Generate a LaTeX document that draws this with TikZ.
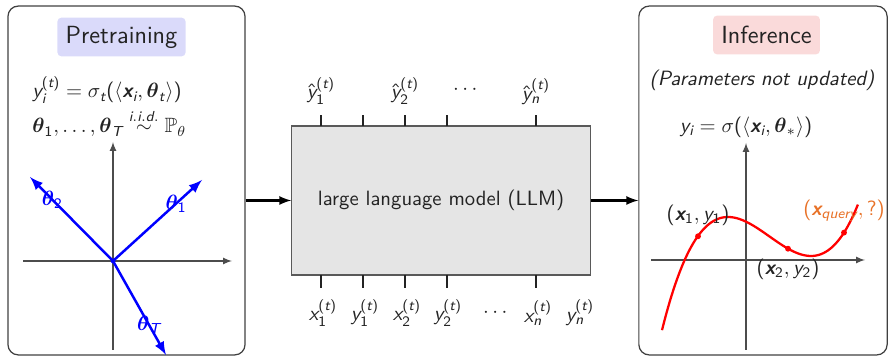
\documentclass[tikz,border=0pt]{standalone}
\usepackage{amsmath}
\usepackage{amssymb}
\usepackage{tikz}
\usetikzlibrary{positioning}
\usetikzlibrary{arrows}

% sans serif digits and latin letters in math, greek stays as is
\SetSymbolFont{operators}{normal}{OT1}{cmss}{m}{n}
\SetSymbolFont{operators}{bold}{OT1}{cmss}{bx}{n}
\DeclareSymbolFont{sfletters}{TU}{lmss}{m}{sl}
\SetSymbolFont{sfletters}{bold}{TU}{lmss}{bx}{sl}
\newcount\lettercode
\lettercode=`a
\loop
	\Umathcode\lettercode=7 \symsfletters \lettercode
	\ifnum\lettercode<`z \advance\lettercode by 1 \repeat
\lettercode=`A
\loop
	\Umathcode\lettercode=7 \symsfletters \lettercode
	\ifnum\lettercode<`Z \advance\lettercode by 1 \repeat

\definecolor{inkgray}{RGB}{35,35,35}
\definecolor{tagblue}{RGB}{218,218,250}
\definecolor{tagred}{RGB}{250,218,218}
\definecolor{queryorange}{RGB}{232,114,40}
\definecolor{llmgray}{RGB}{229,229,229}

\tikzset{
  panel/.style={draw=black!75, line width=0.6pt, rounded corners=5pt, minimum height=5.93cm},
  tag/.style={rounded corners=2pt, inner xsep=4pt, minimum height=0.66cm, font=\sffamily\large},
  llm/.style={draw=black!65, fill=llmgray, line width=0.6pt, minimum width=5.07cm, minimum height=2.53cm},
  tick/.style={draw=inkgray, line width=0.6pt},
  axis/.style={draw=black!70, line width=0.5pt, -latex},
  vec/.style={draw=blue, line width=1.2pt, -latex},
  flow/.style={draw=black, line width=1pt, -latex},
  curve/.style={draw=red, line width=1.1pt},
  dot/.style={circle, inner sep=0pt, minimum size=0.1cm}
}

\begin{document}
\begin{tikzpicture}[x=0.017cm, y=-0.017cm, font=\sffamily, every node/.style={text=inkgray}]
	\useasboundingbox (0,0) rectangle (889,356);

	% panels and model
	\node[panel, minimum width=4.03cm] (pre) at (126.5,180.5) {};
	\node[panel, minimum width=4.22cm] (inf) at (763,180.5) {};
	\node[llm] (llm) at (441,200.5) {large language model (LLM)};

	\node[tag, fill=tagblue] (pretag) at (121.5,37) {Pretraining};
	\node[tag, fill=tagred] (inftag) at (766.5,35) {Inference};

	% pretraining side
	\node[anchor=west] (law) at (25,90) {$y_i^{(t)} = \sigma_t(\langle \boldsymbol{x}_i, \boldsymbol{\theta}_t \rangle)$};
	\node[anchor=west] (prior) at (25,123) {$\boldsymbol{\theta}_1, \ldots, \boldsymbol{\theta}_T \overset{i.i.d.}{\sim} \mathbb{P}_\theta$};

	\coordinate (o1) at (113,261);
	\coordinate (t1) at (202,180);
	\coordinate (t2) at (30,177);
	\coordinate (tT) at (166,355);
	\draw[axis] (23,261) -- (232,261);
	\draw[axis] (113,350) -- (113,142);
	\draw[vec] (o1) -- (t1) node[pos=0.71, text=blue] {$\boldsymbol{\theta}_1$};
	\draw[vec] (o1) -- (t2) node[pos=0.73, text=blue] {$\boldsymbol{\theta}_2$};
	\draw[vec] (o1) -- (tT) node[pos=0.68, text=blue] {$\boldsymbol{\theta}_T$};
	\node[dot, fill=blue, minimum size=0.08cm] (orig) at (o1) {};

	% flow through the model
	\draw[flow] (pre.east |- llm.west) -- (llm.west);
	\draw[flow] (llm.east) -- (inf.west |- llm.east);

	\foreach \x [count=\i] in {321,363,405,447,536} {
		\draw[tick] (\x,126) -- (\x,115) coordinate (up\i);
		\draw[tick] (\x,275) -- (\x,288) coordinate (dn\i);
	}
	\node[above=1.5pt of up1] (yhat1) {$\hat{y}_1^{(t)}$};
	\node[above=1.5pt of up3] (yhat2) {$\hat{y}_2^{(t)}$};
	\node[above=1.5pt of up5] (yhatn) {$\hat{y}_n^{(t)}$};
	\node (topdots) at (467,90) {$\cdots$};

	\foreach \x/\lab [count=\i] in {323/{$x_1^{(t)}$}, 365/{$y_1^{(t)}$}, 407/{$x_2^{(t)}$}, 448/{$y_2^{(t)}$}, 497/{$\cdots$}, 538/{$x_n^{(t)}$}, 580/{$y_n^{(t)}$}}
		\node (in\i) at (\x,313) {\lab};

	% inference side
	\node (note) at (762,80) {\itshape (Parameters not updated)};
	\node (model) at (746,127) {$y_i = \sigma(\langle \boldsymbol{x}_i, \boldsymbol{\theta}_* \rangle)$};

	\draw[axis] (651,260) -- (865,260);
	\draw[axis] (746,350) -- (746,143);
	\draw[curve] plot[domain=-0.84:1.12, samples=80, smooth] ({746+100*\x},{260-(136.4*(\x*\x*\x-0.705*\x*\x-0.351*\x)+38.3)});

	\node[dot, fill=red] (p1) at (698,236.3) {};
	\node[dot, fill=red] (p2) at (788,248.7) {};
	\node[dot, fill=red] (p3) at (844,232.6) {};
	\node[above=0pt of p1] (lab1) {$(\boldsymbol{x}_1, y_1)$};
	\node[below=0pt of p2] (lab2) {$(\boldsymbol{x}_2, y_2)$};
	\node[above=0pt of p3, text=queryorange] (labq) {$(\boldsymbol{x}_{query}, ?)$};
\end{tikzpicture}
\end{document}
